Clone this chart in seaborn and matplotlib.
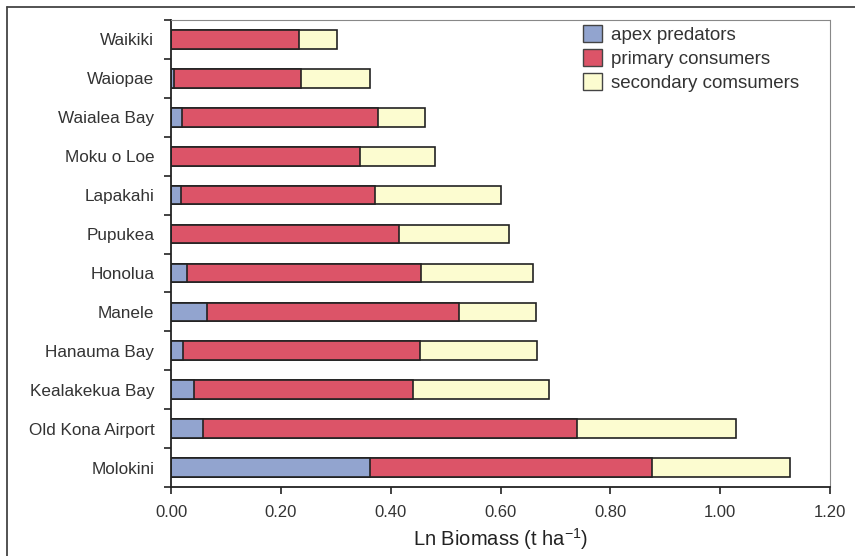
import matplotlib
matplotlib.use("Agg")
import matplotlib.pyplot as plt
from matplotlib.lines import Line2D
from matplotlib.patches import Patch
import seaborn as sns
import pandas as pd

sites = ["Waikiki", "Waiopae", "Waialea Bay", "Moku o Loe", "Lapakahi", "Pupukea",
         "Honolua", "Manele", "Hanauma Bay", "Kealakekua Bay", "Old Kona Airport", "Molokini"]
apex = [0.000, 0.005, 0.020, 0.000, 0.019, 0.000, 0.029, 0.065, 0.021, 0.042, 0.058, 0.362]
primary = [0.233, 0.232, 0.357, 0.345, 0.353, 0.416, 0.427, 0.459, 0.433, 0.398, 0.681, 0.513]
secondary = [0.070, 0.126, 0.085, 0.136, 0.229, 0.199, 0.203, 0.140, 0.213, 0.248, 0.289, 0.253]
series = ["apex predators", "primary consumers", "secondary comsumers"]
xticks = [0.0, 0.2, 0.4, 0.6, 0.8, 1.0, 1.2]

colors = ["#92A4CF", "#DC5468", "#FCFCD0"]

df = pd.DataFrame({"site": sites, "apex": apex, "primary": primary, "secondary": secondary})
df["c1"] = df["apex"]
df["c2"] = df["apex"] + df["primary"]
df["c3"] = df["c2"] + df["secondary"]

sns.set_theme(style="white")
plt.rcParams["font.family"] = ["Liberation Sans", "DejaVu Sans"]

fig = plt.figure(figsize=(8.55, 5.56), dpi=100)
ax = fig.add_axes([171 / 855, 1 - 487 / 556, (830 - 171) / 855, (487 - 20) / 556])

for col, c in zip(["c3", "c2", "c1"], [colors[2], colors[1], colors[0]]):
    sns.barplot(data=df, x=col, y="site", orient="h", color=c, edgecolor="#222222",
                linewidth=1.2, width=0.48, ax=ax, order=sites, saturation=1)

ax.set_xlim(0, 1.2)
ax.set_ylim(len(sites) - 0.5, -0.5)
ax.set_xticks(xticks)
ax.set_xticklabels([f"{t:.2f}" for t in xticks], fontsize=12, color="#333333")
ax.set_yticks(range(len(sites)))
ax.set_yticklabels(sites, fontsize=12.3, color="#333333")
ax.set_yticks([i + 0.5 for i in range(-1, len(sites))], minor=True)
ax.tick_params(axis="y", which="major", length=0, pad=12)
ax.tick_params(axis="y", which="minor", length=5, width=1.2, direction="out", left=True, color="#222222")
ax.tick_params(axis="x", which="major", length=5, width=1.2, direction="out", bottom=True, color="#222222", pad=8)
ax.set_xlabel("Ln Biomass (t ha$^{\\mathregular{-1}}$)", fontsize=14.5, color="#222222", labelpad=4)
ax.set_ylabel("")

for s in ["left", "bottom"]:
    ax.spines[s].set_color("#222222")
    ax.spines[s].set_linewidth(1.3)
for s in ["top", "right"]:
    ax.spines[s].set_color("#888888")
    ax.spines[s].set_linewidth(0.8)
    ax.spines[s].set_linestyle((0, (2, 1)))

handles = [Patch(facecolor=c, edgecolor="#444444", linewidth=1.0) for c in colors]
leg = ax.legend(handles, series, loc="upper left", bbox_to_anchor=(0.60, 1.025),
                frameon=False, fontsize=13.5, handlelength=1.0, handleheight=1.0,
                handletextpad=0.5, labelspacing=0.28)
for t in leg.get_texts():
    t.set_color("#333333")

# outer frame of the scanned chart
fig.add_artist(Line2D([7 / 855, 7 / 855], [0, 1 - 7 / 556], transform=fig.transFigure,
                      color="#444444", linewidth=1.3))
fig.add_artist(Line2D([7 / 855, 1], [1 - 7 / 556, 1 - 7 / 556], transform=fig.transFigure,
                      color="#444444", linewidth=1.3))

fig.savefig("out.png", dpi=100, facecolor="white")
